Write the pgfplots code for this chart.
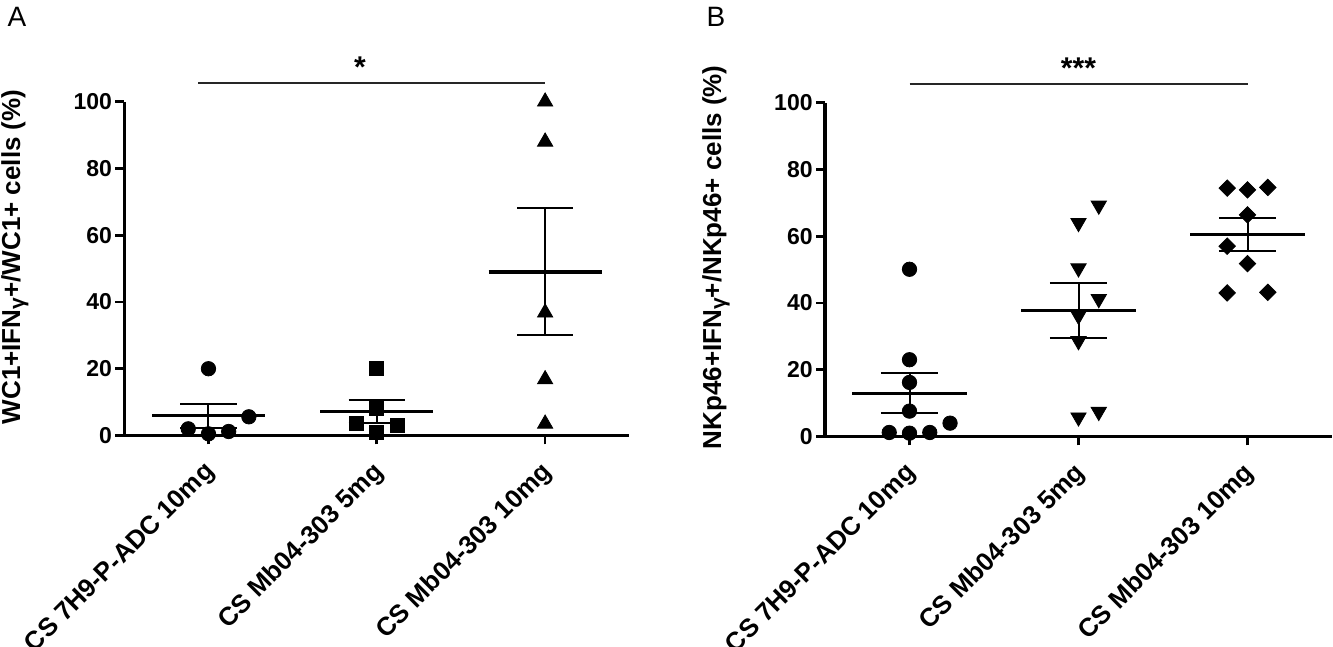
\documentclass[border=0pt]{standalone}
\usepackage{pgfplots}
\pgfplotsset{compat=1.18}
\usepackage{fontspec}
\setmainfont{Liberation Sans}
\newcommand{\gam}{\raisebox{-0.3ex}{\fontsize{10.5}{10.5}\selectfont γ}}

\pgfplotsset{
  panel/.style={
    scale only axis,
    width=252.5pt, height=166.9pt,
    xmin=-0.5, xmax=2.5, ymin=0, ymax=100,
    axis x line=bottom, axis y line=left,
    axis line style={-, line width=1.6pt, black},
    clip=false,
    xtick={0,1,2},
    xticklabels={CS 7H9-P-ADC 10mg, CS Mb04-303 5mg, CS Mb04-303 10mg},
    ytick={0,20,40,60,80,100},
    tick align=outside,
    major tick length=4.5pt,
    tick style={line width=1.3pt, black},
    /pgf/number format/assume math mode=true,
    yticklabel style={font=\bfseries\fontsize{11.5}{13}\selectfont, inner sep=1.5pt},
    xticklabel style={rotate=45, anchor=north east, font=\bfseries\fontsize{12.9}{15}\selectfont, inner sep=0pt, xshift=-7.3pt, yshift=-3.2pt},
    ylabel style={font=\bfseries\fontsize{13}{15}\selectfont, anchor=center},
  },
  meanline/.style={black, line width=1.6pt},
  semline/.style={black, line width=1.0pt},
  sigline/.style={black!85, line width=1.0pt},
}

\begin{document}
\begin{tikzpicture}
\path[use as bounding box] (0,0) rectangle (666.5pt,323.5pt);

% ---------------- Panel A ----------------
\begin{axis}[panel, at={(62.15pt,105.75pt)}, anchor=south west,
  ylabel={WC1+IFN\gam+/WC1+ cells (\%)},
  ylabel style={at={(axis description cs:-0.2166,0.535)}}]
% circles
\addplot[only marks, mark=*, mark size=3.6pt, black] coordinates {(0,20) (0.24,5.6) (-0.12,2.0) (0,0.5) (0.12,1.2)};
\addplot[meanline] coordinates {(-0.335,6.0) (0.335,6.0)};
\addplot[semline] coordinates {(0,2.2) (0,9.45)};
\addplot[semline] coordinates {(-0.167,9.45) (0.167,9.45)};
\addplot[semline] coordinates {(-0.167,2.2) (0.167,2.2)};
% squares
\addplot[only marks, mark=square*, mark size=3.5pt, black] coordinates {(1,20) (1,8.0) (0.88,3.5) (1.12,3.0) (1,1.0)};
\addplot[meanline] coordinates {(0.665,7.2) (1.335,7.2)};
\addplot[semline] coordinates {(1,3.7) (1,10.6)};
\addplot[semline] coordinates {(0.833,10.6) (1.167,10.6)};
\addplot[semline] coordinates {(0.833,3.7) (1.167,3.7)};
% triangles
\addplot[only marks, mark=triangle*, mark size=4.4pt, black] coordinates {(2,100) (2,88) (2,36.8) (2,16.8) (2,3.5)};
\addplot[meanline] coordinates {(1.665,49.0) (2.335,49.0)};
\addplot[semline] coordinates {(2,30.0) (2,68.2)};
\addplot[semline] coordinates {(1.833,68.2) (2.167,68.2)};
\addplot[semline] coordinates {(1.833,30.0) (2.167,30.0)};
% significance
\addplot[sigline] coordinates {(-0.06,105.5) (2.0,105.5)};
\node[anchor=base, font=\bfseries\fontsize{15}{17}\selectfont] at (axis cs:0.9,107.1) {*};
\end{axis}

% ---------------- Panel B ----------------
\begin{axis}[panel, at={(412.5pt,105.25pt)}, anchor=south west, width=253.5pt,
  ylabel={NKp46+IFN\gam+/NKp46+ cells (\%)},
  ylabel style={at={(axis description cs:-0.215,0.537)}}]
% circles
\addplot[only marks, mark=*, mark size=3.6pt, black] coordinates {(0,50.1) (0,23.0) (0,16.2) (0,7.6) (0.24,4.0) (-0.12,1.2) (0,1.0) (0.12,1.2)};
\addplot[meanline] coordinates {(-0.34,13.0) (0.34,13.0)};
\addplot[semline] coordinates {(0,7.0) (0,19.0)};
\addplot[semline] coordinates {(-0.17,19.0) (0.17,19.0)};
\addplot[semline] coordinates {(-0.17,7.0) (0.17,7.0)};
% triangles down
\addplot[only marks, mark=triangle*, mark size=4.4pt, mark options={rotate=180}, black] coordinates {(1,64) (1.12,69.2) (1,50.4) (1.12,41.2) (1,36.2) (1,28.6) (1,5.75) (1.12,7.4)};
\addplot[meanline] coordinates {(0.66,37.7) (1.34,37.7)};
\addplot[semline] coordinates {(1,29.4) (1,46.1)};
\addplot[semline] coordinates {(0.83,46.1) (1.17,46.1)};
\addplot[semline] coordinates {(0.83,29.4) (1.17,29.4)};
% diamonds
\addplot[only marks, mark=square*, mark size=2.9pt, mark options={rotate=45}, black] coordinates {(1.88,74.4) (2,73.9) (2.12,74.6) (2,66.4) (1.88,57.0) (2,51.8) (1.88,43.0) (2.12,43.2)};
\addplot[meanline] coordinates {(1.66,60.5) (2.34,60.5)};
\addplot[semline] coordinates {(2,55.6) (2,65.5)};
\addplot[semline] coordinates {(1.83,65.5) (2.17,65.5)};
\addplot[semline] coordinates {(1.83,55.6) (2.17,55.6)};
% significance
\addplot[sigline] coordinates {(0.0,105.5) (2.0,105.5)};
\node[anchor=base, font=\bfseries\fontsize{15}{17}\selectfont] at (axis cs:1.0,107.1) {***};
\end{axis}

\node[font=\fontsize{14}{16}\selectfont] at (8.5pt,315pt) {A};
\node[font=\fontsize{14}{16}\selectfont] at (358pt,315.25pt) {B};
\end{tikzpicture}
\end{document}
